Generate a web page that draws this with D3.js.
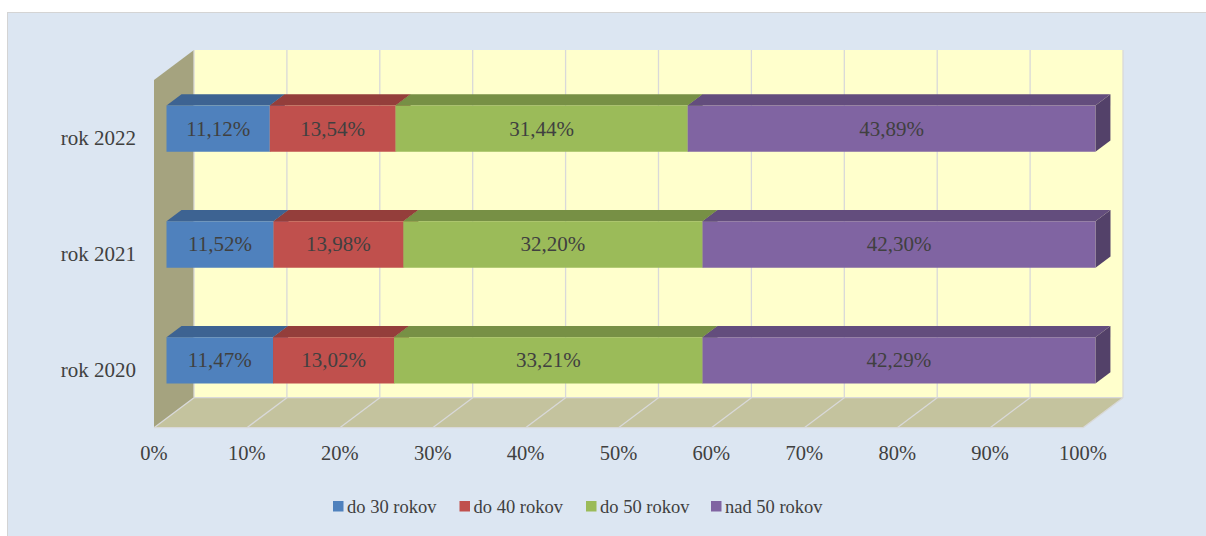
<!DOCTYPE html>
<html>
<head>
<meta charset="utf-8">
<script src="https://cdn.jsdelivr.net/npm/d3@7"></script>
<style>
    body { margin: 0; background: #ffffff; }
    #chart { width: 1206px; height: 536px; }
</style>
</head>
<body>
<div id="chart"></div>
<script>
// Chart data
const categories = ['rok 2020', 'rok 2021', 'rok 2022'];
const seriesNames = ['do 30 rokov', 'do 40 rokov', 'do 50 rokov', 'nad 50 rokov'];
const do30 = [11.47, 11.52, 11.12];
const do40 = [13.02, 13.98, 13.54];
const do50 = [33.21, 32.20, 31.44];
const nad50 = [42.29, 42.30, 43.89];
const tickValues = [0, 10, 20, 30, 40, 50, 60, 70, 80, 90, 100];
const colors = ['#4f81bd', '#c0504d', '#9bbb59', '#8064a2'];

const seriesValues = [do30, do40, do50, nad50];

const width = 1206, height = 536;
const svg = d3.select('#chart').append('svg')
    .attr('width', width)
    .attr('height', height)
    .style('font-family', '"Liberation Serif"');

// Background panel
svg.append('rect')
    .attr('x', 7.5).attr('y', 12.5)
    .attr('width', 1230).attr('height', 560)
    .attr('fill', '#dce6f2')
    .attr('stroke', '#d4d4d4');

// Front plane scales, depth goes up-right
const xScale = d3.scaleLinear().domain([0, 100]).range([154, 1083]);
const yScale = d3.scaleBand()
    .domain(categories.slice().reverse())
    .range([80, 427.7])
    .paddingInner(0.6)
    .paddingOuter(0.3);
const depthX = 40, depthY = -30;
const [yTop, yBottom] = yScale.range();
const proj = (x, y, z) => [x + z * depthX, y + z * depthY];
const poly = pts => 'M' + pts.map(p => p.join(',')).join('L') + 'Z';

const x0 = xScale(0), x1 = xScale(100);

// Back wall
svg.append('path')
    .attr('d', poly([proj(x0, yTop, 1), proj(x1, yTop, 1), proj(x1, yBottom, 1), proj(x0, yBottom, 1)]))
    .attr('fill', '#ffffcc');

// Left wall
svg.append('path')
    .attr('d', poly([proj(x0, yTop, 0), proj(x0, yTop, 1), proj(x0, yBottom, 1), proj(x0, yBottom, 0)]))
    .attr('fill', '#a5a37f');

// Floor
svg.append('path')
    .attr('d', poly([proj(x0, yBottom, 0), proj(x0, yBottom, 1), proj(x1, yBottom, 1), proj(x1, yBottom, 0)]))
    .attr('fill', '#c4c39e');

// Gridlines on back wall and floor
const grid = svg.append('g').attr('stroke', '#d9d9d9').attr('stroke-width', 1.3).attr('fill', 'none');
tickValues.forEach(v => {
    const gx = xScale(v);
    grid.append('path').attr('d', 'M' + proj(gx, yTop, 1).join(',') + 'L' + proj(gx, yBottom, 1).join(','));
    grid.append('path').attr('d', 'M' + proj(gx, yBottom, 1).join(',') + 'L' + proj(gx, yBottom, 0).join(','));
});
grid.append('path').attr('d', 'M' + proj(x0, yBottom, 1).join(',') + 'L' + proj(x1, yBottom, 1).join(','));
grid.append('path').attr('d', 'M' + proj(x0, yBottom, 0).join(',') + 'L' + proj(x1, yBottom, 0).join(','));

// Bars
const zFront = 0.3125, zBack = 0.6875;
const shade = (c, k) => {
    const r = d3.rgb(c);
    return d3.rgb(r.r * k, r.g * k, r.b * k).formatHex();
};
const fmt = v => d3.format('.2f')(v).replace('.', ',') + '%';

const bars = svg.append('g');
categories.forEach((cat, ci) => {
    const by0 = yScale(cat), by1 = by0 + yScale.bandwidth();
    let acc = 0;
    seriesValues.forEach((vals, si) => {
        const v = vals[ci];
        const sx0 = xScale(acc), sx1 = xScale(acc + v);
        acc += v;
        const g = bars.append('g');
        // right side face
        g.append('path')
            .attr('d', poly([proj(sx1, by0, zFront), proj(sx1, by0, zBack), proj(sx1, by1, zBack), proj(sx1, by1, zFront)]))
            .attr('fill', shade(colors[si], 0.65));
        // top face
        g.append('path')
            .attr('d', poly([proj(sx0, by0, zFront), proj(sx0, by0, zBack), proj(sx1, by0, zBack), proj(sx1, by0, zFront)]))
            .attr('fill', shade(colors[si], 0.77));
        // front face
        g.append('path')
            .attr('d', poly([proj(sx0, by0, zFront), proj(sx1, by0, zFront), proj(sx1, by1, zFront), proj(sx0, by1, zFront)]))
            .attr('fill', colors[si]);
        const c = proj((sx0 + sx1) / 2, (by0 + by1) / 2, zFront);
        g.append('text')
            .attr('x', c[0]).attr('y', c[1])
            .attr('text-anchor', 'middle')
            .attr('dominant-baseline', 'central')
            .attr('fill', '#404040')
            .style('font-size', '21px')
            .text(fmt(v));
    });
});

// Category labels
svg.selectAll('.cat-label')
    .data(categories)
    .enter()
    .append('text')
    .attr('class', 'cat-label')
    .attr('x', 136)
    .attr('y', d => yScale(d) + yScale.bandwidth() / 2)
    .attr('text-anchor', 'end')
    .attr('dominant-baseline', 'central')
    .attr('fill', '#404040')
    .style('font-size', '21px')
    .text(d => d);

// X axis labels
svg.selectAll('.x-label')
    .data(tickValues)
    .enter()
    .append('text')
    .attr('class', 'x-label')
    .attr('x', d => xScale(d))
    .attr('y', 453)
    .attr('text-anchor', 'middle')
    .attr('dominant-baseline', 'central')
    .attr('fill', '#404040')
    .style('font-size', '20.5px')
    .text(d => d + '%');

// Legend
const legendX = [333, 459.5, 586, 711];
const legend = svg.append('g');
seriesNames.forEach((name, i) => {
    legend.append('rect')
        .attr('x', legendX[i]).attr('y', 501)
        .attr('width', 10.5).attr('height', 10.5)
        .attr('fill', colors[i]);
    legend.append('text')
        .attr('x', legendX[i] + 14)
        .attr('y', 506.5)
        .attr('dominant-baseline', 'central')
        .attr('fill', '#404040')
        .style('font-size', '18.5px')
        .text(name);
});
</script>
</body>
</html>
